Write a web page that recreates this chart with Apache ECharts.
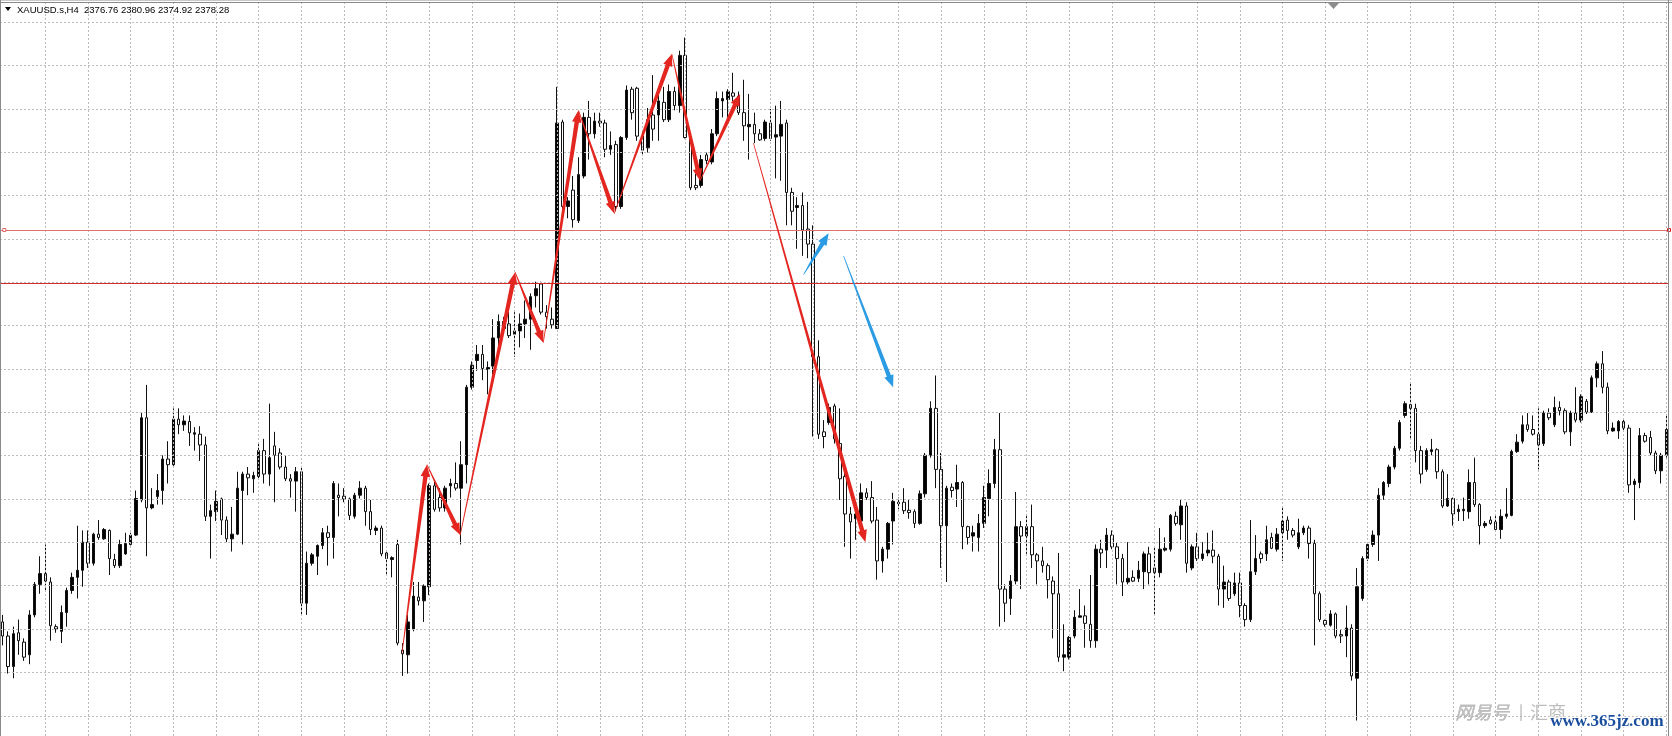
<!DOCTYPE html>
<html><head><meta charset="utf-8">
<script src="https://cdn.jsdelivr.net/npm/echarts@6/dist/echarts.min.js"></script>
<style>html,body{margin:0;padding:0;background:#fff;}#c{width:1672px;height:736px;}</style>
</head><body><div id="c"></div>
<script>
// H4 bars: [open, high, low, close]
const ohlc = [
[2342.5,2344,2337.5,2339.5],[2339.5,2340.5,2331.5,2333],[2333,2341.5,2330.5,2340],[2340.2,2343,2335.5,2338.5],
[2338.2,2339,2334.2,2335],[2335.5,2345,2333.5,2344],[2344,2351,2343.5,2350.5],[2350.5,2356.5,2348.5,2352.8],
[2352.8,2359,2349,2351.2],[2351,2352,2338.5,2341.7],[2341.5,2342,2340.2,2341],[2340.5,2346,2338,2344.5],
[2344.5,2349.8,2341.5,2349.2],[2349.2,2353,2348.5,2352],[2352,2363,2347.5,2353.5],[2353.5,2362,2350,2359.5],
[2359.5,2362,2354,2355],[2355,2361.5,2354.5,2361.2],[2361.2,2364.2,2360,2360.5],[2360.2,2362.5,2360,2362.2],
[2362,2362.2,2352.5,2356],[2355.8,2357,2354,2354.5],[2354.5,2360,2354,2359],[2357,2361.5,2356.8,2359.2],
[2359,2361.5,2358.8,2361],[2361,2370.5,2360.8,2368.8],[2368.5,2387,2368,2386],[2386,2393,2356.5,2366.8],
[2366.8,2371,2366.5,2367.5],[2369.2,2374,2367.5,2370.5],[2370.5,2378,2367.5,2377.2],[2377.2,2381,2372,2376],
[2376,2388,2375.5,2385.7],[2385.7,2388,2382.5,2384.5],[2384.5,2386.5,2383.2,2385.3],[2385.2,2386.5,2380,2382.8],
[2382.5,2384,2379,2382.8],[2382.5,2384.2,2376.8,2380.2],[2380.2,2382,2364,2365],[2365,2367.5,2356,2366.2],
[2366,2370.5,2364,2368.2],[2368.7,2369,2361,2364.2],[2364.2,2365,2359.5,2360.2],[2360.2,2367,2357.5,2361.2],
[2361.2,2374.5,2361,2371],[2370.5,2374.5,2359,2374],[2374,2375.5,2369.5,2373.2],[2373,2374.5,2370,2373.7],
[2373.5,2380.5,2373,2379],[2379,2381.5,2372,2374],[2374,2389,2371.5,2377.5],[2380,2383,2368,2378],
[2378.5,2379.5,2375,2375.5],[2375.5,2378,2372.5,2373],[2373,2374,2369,2372.5],[2372.5,2375.5,2366,2374.5],
[2374.5,2375.5,2344,2346.5],[2346.5,2357.5,2344,2355],[2355,2357.2,2354.5,2356.8],[2356.5,2359,2352.5,2358.8],
[2358.8,2362.5,2358,2361.5],[2361.5,2363,2354.5,2360.5],[2360.5,2372.5,2356,2372],[2369.5,2372,2365,2369],
[2369.3,2371,2368,2368.7],[2368.7,2369,2364.2,2365.2],[2365,2370,2364.5,2369.5],[2369.5,2372.5,2368.8,2371],
[2371,2371.5,2363,2366],[2366,2368.5,2361,2362.2],[2362,2363,2361,2362.5],[2362.5,2363,2356.5,2357],
[2357.2,2357.5,2352.5,2356],[2355.8,2356.5,2352,2356.2],[2359,2360,2337.5,2338],[2336.5,2338,2331,2335.7],
[2335.5,2344,2331.5,2342.5],[2341,2351,2340.5,2348],[2347.8,2351,2346,2347],[2347,2350.5,2342.5,2350.2],
[2350,2372,2348.2,2371.5],[2371.5,2372.5,2366,2366.5],[2369,2371,2366,2366.8],[2366.8,2371.5,2366,2371],
[2371.5,2373,2369,2372],[2372,2376.5,2370.5,2371],[2371,2381,2359,2376],[2376,2393,2372,2392.5],
[2392.5,2398,2392,2397.2],[2398.2,2401.5,2396,2399.5],[2399.5,2401.5,2394,2396.5],[2396.3,2398,2391,2396.7],
[2397,2407,2395,2403],[2403,2408,2399,2406.5],[2406.5,2407.5,2404,2405],[2406,2408.5,2403,2403.5],
[2403.8,2408.5,2399,2404.5],[2404.5,2408.2,2401,2406],[2406,2411,2403,2407],[2407,2412.5,2400.5,2411.8],
[2412,2415,2409.5,2413.5],[2414.5,2415,2408,2408.5],[2408.5,2410,2405,2407.5],[2407,2409.5,2405,2405.8],
[2405,2456.5,2405,2448.8],[2449,2449.5,2430.5,2431],[2431,2433,2428.5,2432.2],[2434.5,2437.5,2426.5,2428.2],
[2428,2441.5,2427.5,2437.8],[2437.5,2451,2437,2450],[2450,2453.5,2441,2446.5],[2446.5,2451,2445.5,2449.2],
[2449.2,2451,2448,2448.8],[2448.8,2449.5,2441.5,2443.2],[2443.2,2447,2442,2444],[2444.2,2445,2430,2431],
[2431,2446,2430.5,2445.7],[2445.7,2456.8,2445.2,2455.8],[2456,2456.5,2449.5,2451],[2456.2,2456.5,2445,2446],
[2446,2447,2442,2443],[2443.5,2452,2442.5,2449.5],[2450.5,2459,2445,2447.5],[2450.5,2455.5,2445,2453.5],
[2453.2,2456.5,2449,2449.5],[2449.5,2457,2449,2455.5],[2455.5,2456.5,2451.5,2452.5],[2452.5,2464.2,2451,2463.2],
[2463.2,2467,2445.5,2445.7],[2445.7,2446,2434.5,2435],[2435.5,2438,2434.5,2435],[2435.5,2442,2435,2441],
[2442,2442.5,2440,2440.8],[2440.5,2447.5,2440,2446.5],[2446.5,2455.5,2446,2454],[2453.5,2455.5,2450,2454],
[2453.8,2456,2450,2455.5],[2455.2,2459.5,2453.5,2454.5],[2454.5,2455.5,2450.5,2451],[2451,2458,2445,2448.2],
[2448,2455,2441,2448.5],[2448.5,2451,2444.5,2446.5],[2446.5,2447.5,2445,2445.2],[2445.5,2449.5,2445,2449],
[2448.8,2451.8,2445,2445.5],[2445.8,2452.5,2437,2446.3],[2446,2453.5,2436.5,2448.5],[2448.8,2449.5,2427,2434],
[2434,2435,2427,2430],[2430.8,2433,2422,2431.2],[2431.2,2434,2420.5,2426],[2426.2,2432,2420,2423],
[2423,2427,2382,2399],[2399,2402.5,2381.5,2382.5],[2383,2385.5,2379.5,2382],[2385,2389,2384.5,2388.2],
[2388.5,2389,2380.5,2381.5],[2380.5,2388,2368.5,2373],[2373.5,2375,2358.5,2365.5],[2365.5,2367,2356,2363.8],
[2364.5,2367,2360,2365.5],[2364,2372,2363.5,2370],[2370,2371,2368.5,2369],[2369,2372.5,2363.5,2364],
[2364.2,2367,2351.5,2355.5],[2355.5,2358.5,2353,2358],[2358,2363.8,2356,2363.5],[2364,2370,2359,2368.2],
[2367.7,2369,2366.5,2368],[2368,2371,2365.5,2366.2],[2366.3,2368.5,2364.5,2365.8],[2366,2366.5,2362.5,2363.5],
[2363.5,2370.5,2363.2,2369.8],[2369.8,2378.5,2369,2378],[2378,2389.5,2377.5,2388],[2388,2395,2371,2375],
[2375,2378.5,2354,2363],[2363,2371.5,2351,2371],[2371.2,2372,2369,2370.5],[2370.8,2376,2367,2372.2],
[2372.2,2372.5,2358,2362.8],[2362.8,2363,2359,2360.5],[2360.8,2363,2357.5,2361.5],[2360.5,2365.5,2357.5,2363.5],
[2363.5,2371.5,2362.5,2369],[2368.8,2375,2365,2372],[2372,2381.5,2371,2379.2],[2379.2,2387,2341.5,2349.5],
[2349.5,2350.5,2342.5,2346.5],[2347.5,2352.5,2344,2351.2],[2351.2,2370.2,2350.5,2362.8],[2362.8,2364,2349.5,2360.8],
[2360.8,2365.5,2357,2362.8],[2362.8,2367.5,2354,2356.8],[2356.8,2357.2,2350.5,2355.5],[2355.5,2358.5,2353,2354.5],
[2354.5,2355,2347.5,2351.5],[2351.2,2352.2,2339,2348.5],[2348.5,2357.2,2334,2335],[2335,2342,2332,2335.5],
[2335,2339.5,2334.5,2339.2],[2339.5,2345,2339,2343.5],[2343.5,2349.5,2343.5,2343.8],[2343.8,2346,2337,2342.2],
[2342,2352.5,2337,2338.5],[2338.5,2359,2337,2358],[2358,2360,2354,2357.2],[2357.8,2362.5,2354,2361],
[2361,2362,2358,2358.5],[2358.5,2359.5,2350.5,2356],[2356,2357,2348,2351],[2351,2359.5,2350.5,2351.8],
[2352,2353.5,2351,2351.2],[2351.8,2355.5,2351,2353.5],[2353.2,2357.5,2349.5,2357],[2357,2358.5,2350.5,2353],
[2354,2358.5,2344,2353],[2353,2362.5,2352,2358],[2357.8,2360.5,2357.5,2358.2],[2358,2365.5,2357.5,2365.2],
[2365,2366,2363,2363.5],[2363.2,2368.5,2360,2367.2],[2367.2,2368,2353,2355],[2354,2359,2353.5,2358.5],
[2358.5,2361.5,2355.5,2356],[2356,2359.5,2355.5,2357],[2357.2,2361.5,2356.5,2357.8],[2357.8,2362,2355,2356.5],
[2356.5,2357,2346,2349.5],[2349.5,2354.5,2345.5,2351],[2351,2351.5,2347,2347.5],[2348.5,2353,2348,2350.8],
[2350.8,2353,2343.5,2346],[2346,2346.5,2341.5,2343],[2343,2364.2,2342.5,2353.2],[2353.2,2361,2352.5,2356],
[2357,2357.5,2355,2356],[2357,2363,2355.5,2360],[2360.5,2361.5,2358,2358.2],[2358,2362.5,2357.5,2361.2],
[2361.5,2367,2355.5,2364],[2364.2,2365,2360,2362],[2362,2362.5,2360.5,2361],[2358.5,2364.5,2358,2361.5],
[2361.5,2363,2361,2362.5],[2362.5,2363,2356,2359.2],[2359.2,2360,2337.5,2348.5],[2348.5,2349,2342.5,2343],
[2342.8,2343,2341.5,2342],[2341.8,2345,2341.5,2344.2],[2344.2,2344.5,2339,2339.5],[2339.8,2341,2338,2339.5],
[2339.5,2346,2335,2341.2],[2341.2,2342,2330,2331],[2330.5,2354,2321.5,2350],[2347.5,2356.5,2347,2356],
[2356,2359.5,2355.5,2359],[2359,2362,2358.5,2361],[2361,2371,2355.5,2369.5],[2369.5,2372.5,2368.5,2372.2],
[2372,2376,2371.2,2375.5],[2375.5,2380,2375,2379.5],[2379.5,2385.5,2379,2385],[2386.5,2389.5,2386,2389],
[2388.8,2393.5,2381.5,2388],[2388,2389,2376.5,2379],[2379,2380,2372,2374],[2375,2379.5,2374.5,2379],
[2378.8,2381.5,2378,2379.2],[2379.2,2379.5,2373,2374.5],[2374.5,2375,2366.8,2367.2],[2367.2,2374,2367,2368.8],
[2368.8,2369,2363,2365.5],[2366,2367.5,2364,2366.5],[2366.2,2369,2364,2366.5],[2366,2375,2364.5,2372.2],
[2372.2,2377.5,2367,2367.5],[2367.5,2367.8,2359,2363],[2363,2364,2362.5,2363.5],[2364.2,2365,2363.2,2363.5],
[2363.8,2365.5,2362,2362.2],[2362.2,2366.5,2360.2,2365],[2365,2371,2364.5,2365.5],[2365.2,2379.2,2365,2378.8],
[2378.8,2382.5,2378.5,2380.8],[2381,2386.5,2380.5,2384.5],[2384.5,2387,2383,2383.5],[2383.5,2386.5,2382.2,2382.5],
[2382.5,2388,2375,2380.2],[2380.5,2387.5,2380,2387],[2387,2388,2385.5,2386],[2384.5,2390.5,2384,2388.2],
[2388.2,2389.5,2386.5,2387.5],[2387.5,2388,2382.5,2383],[2383,2387.5,2380,2387],[2387,2392.5,2385,2385.5],
[2385.5,2391,2385,2390.5],[2389.5,2390,2386.8,2387.2],[2387.2,2395,2387,2394.5],[2394.5,2398,2392.5,2397.5],
[2397.5,2400.2,2391.2,2392.5],[2392.5,2393.5,2382.5,2383.2],[2383.2,2385,2383,2383.8],[2383.2,2385.5,2381.5,2385.2],
[2385.2,2385.7,2383.2,2383.8],[2383.8,2384.5,2370,2371.7],[2371.8,2373,2364.2,2372.5],[2372.2,2383.8,2371,2382.2],
[2382.2,2382.8,2380.7,2381],[2381.8,2383.2,2378,2378.5],[2378.5,2379,2374,2374.7],[2374.7,2378.5,2372,2378],
[2378,2386.5,2377.5,2383.5]
];
const barLabels = ohlc.map((_, i) => 'H4#' + (i + 1));

// horizontal dotted grid levels and vertical grid bars (every 8 bars)
const gridPrices = [2470.3,2461.06,2451.83,2442.59,2433.35,2424.11,2414.88,2405.64,2396.4,2387.16,2377.93,2368.69,2359.45,2350.21,2340.98,2331.74,2322.5];
const gridBars = [8,16,24,32,40,48,56,64,72,80,88,96,104,112,120,128,136,144,152,160,168,176,184,192,200,208,216,224,232,240,248,256,264,272,280,288,296,304,312];
// red horizontal levels
const levelUpper = 2426.0;
const levelLower = 2414.7;
// arrows: [barFrom, priceFrom, barTo, priceTo]
const redArrows = [
[74.9,2336.0,79.57,2376.0],
[79.57,2376.0,85.8,2361.0],
[85.8,2361.0,96.1,2417.0],
[96.1,2417.0,101.4,2402.0],
[101.4,2402.0,108.0,2451.5],
[108.0,2451.5,114.7,2429.5],
[114.7,2429.5,125.5,2463.5],
[125.5,2463.5,130.8,2436.5],
[130.8,2436.5,138.3,2455.0],
[140.8,2444.5,161.8,2359.5]
];
const blueArrows = [
[150.2,2416.5,154.9,2425.3],
[157.7,2420.5,167.0,2392.5]
];
const header = 'XAUUSD.s,H4  2376.76 2380.96 2374.92 2378.28';

const chart = echarts.init(document.getElementById('c'), null, {renderer: 'canvas'});

function arrowRender(color) {
  return function (params, api) {
    const s = api.coord([api.value(0), api.value(1)]);
    const e = api.coord([api.value(2), api.value(3)]);
    const dx = e[0] - s[0], dy = e[1] - s[1];
    const len = Math.hypot(dx, dy);
    const ux = dx / len, uy = dy / len, nx = -uy, ny = ux;
    const hl = 12, hw = 4.8, w0 = 0.35, w1 = 2.2;
    const bx = e[0] - ux * hl, by = e[1] - uy * hl;
    const pts = [
      [s[0] + nx * w0, s[1] + ny * w0], [bx + nx * w1, by + ny * w1], [bx + nx * hw, by + ny * hw],
      [e[0], e[1]],
      [bx - nx * hw, by - ny * hw], [bx - nx * w1, by - ny * w1], [s[0] - nx * w0, s[1] - ny * w0]
    ];
    return {type: 'polygon', shape: {points: pts}, style: {fill: color}};
  };
}

const gridMarks = [];
gridBars.forEach(b => gridMarks.push({xAxis: b}));
gridPrices.forEach(p => gridMarks.push({yAxis: p}));

const option = {
  animation: false,
  backgroundColor: '#ffffff',
  grid: {left: -0.33, width: 1669.33, top: 0, bottom: 0},
  xAxis: [
    {type: 'category', data: barLabels, show: false, boundaryGap: true},
    {type: 'value', min: -0.5, max: 312.5, show: false}
  ],
  yAxis: {type: 'value', min: 2318.2, max: 2475, show: false, scale: true},
  graphic: [
    {type: 'line', shape: {x1: 0, y1: 0.5, x2: 1672, y2: 0.5}, style: {stroke: '#c8c8c8', lineWidth: 1}, z: 100},
    {type: 'line', shape: {x1: 0, y1: 2.5, x2: 1672, y2: 2.5}, style: {stroke: '#8a8a8a', lineWidth: 1}, z: 100},
    {type: 'line', shape: {x1: 0.5, y1: 0, x2: 0.5, y2: 736}, style: {stroke: '#8a8a8a', lineWidth: 1}, z: 100},
    {type: 'line', shape: {x1: 1668.5, y1: 0, x2: 1668.5, y2: 736}, style: {stroke: '#8a8a8a', lineWidth: 1}, z: 100},
    {type: 'polygon', shape: {points: [[5, 7], [11, 7], [8, 11]]}, style: {fill: '#000'}, z: 101},
    {type: 'text', left: 17, top: 5, style: {text: header, font: '9.5px "Liberation Sans", Arial, sans-serif', fill: '#000'}, z: 101},
    {type: 'polygon', shape: {points: [[1328, 3], [1339, 3], [1333.5, 9]]}, style: {fill: '#8c8c8c'}, z: 101},
    {type: 'text', left: 1455, top: 703, style: {text: '网易号', font: 'italic 18px "Noto Sans CJK SC", sans-serif', fill: '#bdbdbd', stroke: '#8a8a8a', lineWidth: 0.3}, z: 101},
    {type: 'text', left: 1519, top: 704, style: {text: '|', font: '15px "Noto Sans CJK SC", sans-serif', fill: '#aaaaaa'}, z: 101},
    {type: 'text', left: 1530, top: 703, style: {text: '汇商', font: '18px "Noto Sans CJK SC", sans-serif', fill: '#bdbdbd'}, z: 101},
    {type: 'text', left: 1549, top: 712, style: {text: 'www.365jz.com', font: 'bold 17px "Liberation Serif", serif', fill: '#1b4f9e', stroke: '#ffffff', lineWidth: 2.5}, z: 102}
  ],
  series: [
    {
      type: 'line', xAxisIndex: 1, data: [], silent: true,
      markLine: {
        silent: true, symbol: ['none', 'none'], animation: false,
        label: {show: false},
        lineStyle: {color: '#bcbcbc', type: [2, 2], width: 1},
        data: gridMarks
      }
    },
    {
      type: 'line', xAxisIndex: 1, data: [], silent: true, z: 3,
      markLine: {
        silent: true, symbol: ['none', 'none'], animation: false,
        label: {show: false},
        data: [
          {yAxis: levelUpper, lineStyle: {color: '#e07070', type: 'solid', width: 1}},
          {yAxis: levelLower, lineStyle: {color: '#d42a2a', type: 'solid', width: 1.2}}
        ]
      },
      markPoint: {
        silent: true, animation: false, label: {show: false},
        data: [
          {coord: [312.95, levelUpper], symbol: 'rect', symbolSize: [5, 11], itemStyle: {color: '#e02020'}},
          {coord: [312.95, levelLower], symbol: 'rect', symbolSize: [5, 11], itemStyle: {color: '#e02020'}},
          {coord: [312.5, levelUpper], symbol: 'rect', symbolSize: [3, 3], itemStyle: {color: '#fff', borderColor: '#e02020', borderWidth: 1}},
          {coord: [0.3, levelUpper], symbol: 'rect', symbolSize: [3, 3], itemStyle: {color: '#fff', borderColor: '#e06666', borderWidth: 1}}
        ]
      }
    },
    {
      type: 'candlestick', xAxisIndex: 0, barWidth: 3,
      data: ohlc.map(r => [r[0], r[3], r[2], r[1]]),
      itemStyle: {color: '#000000', color0: '#ffffff', borderColor: '#111111', borderColor0: '#111111', borderWidth: 1},
      z: 4
    },
    {
      type: 'custom', xAxisIndex: 1, data: redArrows, renderItem: arrowRender('#e3261f'), z: 6, silent: true,
      encode: {x: [0, 2], y: [1, 3]}
    },
    {
      type: 'custom', xAxisIndex: 1, data: blueArrows, renderItem: arrowRender('#2b9be3'), z: 6, silent: true,
      encode: {x: [0, 2], y: [1, 3]}
    }
  ]
};
chart.setOption(option);
</script>
</body></html>
